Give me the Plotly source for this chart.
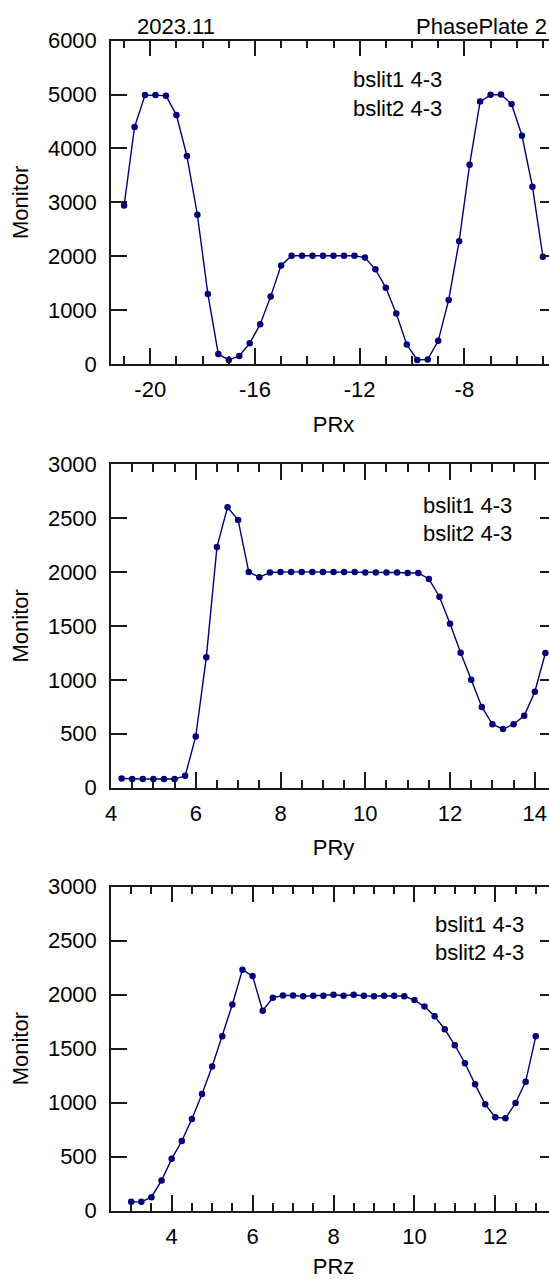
import plotly.graph_objects as go

# ---------------- data ----------------
prx = [-21.0, -20.6, -20.2, -19.8, -19.4, -19.0, -18.6, -18.2, -17.8, -17.4,
       -17.0, -16.6, -16.2, -15.8, -15.4, -15.0, -14.6, -14.2, -13.8, -13.4,
       -13.0, -12.6, -12.2, -11.8, -11.4, -11.0, -10.6, -10.2, -9.8, -9.4,
       -9.0, -8.6, -8.2, -7.8, -7.4, -7.0, -6.6, -6.2, -5.8, -5.4, -5.0]
mon_x = [2940, 4400, 4990, 4990, 4980, 4620, 3860, 2770, 1300, 185,
         75, 150, 385, 740, 1255, 1830, 2010, 2010, 2010, 2010,
         2010, 2010, 2010, 1975, 1757, 1416, 935, 360, 75, 85,
         430, 1190, 2280, 3700, 4870, 4995, 5000, 4825, 4235, 3290, 1990]

pry = [4.25, 4.5, 4.75, 5.0, 5.25, 5.5, 5.75, 6.0, 6.25, 6.5,
       6.75, 7.0, 7.25, 7.5, 7.75, 8.0, 8.25, 8.5, 8.75, 9.0,
       9.25, 9.5, 9.75, 10.0, 10.25, 10.5, 10.75, 11.0, 11.25, 11.5,
       11.75, 12.0, 12.25, 12.5, 12.75, 13.0, 13.25, 13.5, 13.75, 14.0, 14.25]
mon_y = [85, 80, 80, 80, 80, 80, 110, 475, 1210, 2230,
         2600, 2480, 2000, 1950, 1995, 2000, 2000, 2000, 2000, 2000,
         2000, 2000, 2000, 1995, 1995, 1995, 1995, 1990, 1990, 1935,
         1770, 1520, 1250, 1000, 748, 588, 543, 588, 666, 890, 1248]

prz = [3.0, 3.25, 3.5, 3.75, 4.0, 4.25, 4.5, 4.75, 5.0, 5.25,
       5.5, 5.75, 6.0, 6.25, 6.5, 6.75, 7.0, 7.25, 7.5, 7.75,
       8.0, 8.25, 8.5, 8.75, 9.0, 9.25, 9.5, 9.75, 10.0, 10.25,
       10.5, 10.75, 11.0, 11.25, 11.5, 11.75, 12.0, 12.25, 12.5, 12.75, 13.0]
mon_z = [82, 82, 125, 280, 480, 645, 850, 1080, 1335, 1615,
         1910, 2232, 2172, 1852, 1972, 1992, 1992, 1985, 1990, 1990,
         2000, 1990, 2000, 1990, 1985, 1990, 1990, 1985, 1950, 1890,
         1800, 1680, 1532, 1365, 1170, 985, 865, 855, 997, 1195, 1615]

# tick labels (plain hyphen minus, as in the original)
prx_tickvals = [-20, -16, -12, -8]
prx_ticktext = ["-20", "-16", "-12", "-8"]
pry_tickvals = [4, 6, 8, 10, 12, 14]
pry_ticktext = ["4", "6", "8", "10", "12", "14"]
prz_tickvals = [4, 6, 8, 10, 12]
prz_ticktext = ["4", "6", "8", "10", "12"]

x_titles = ["PRx", "PRy", "PRz"]
y_title = "Monitor"
header_left = "2023.11"
header_right = "PhasePlate 2"
slit_lines = ["bslit1 4-3", "bslit2 4-3"]

# ---------------- layout geometry (pixels) ----------------
W, H = 557, 1279
L, R = 111, 556
panels_px = [(40.7, 364.0), (464.0, 787.7), (886.7, 1210.7)]
xranges = [[-21.5, -4.5], [4, 14.5], [2.5, 13.5]]
yranges = [[0, 6000], [0, 3000], [0, 3000]]
xticks = [(prx_tickvals, prx_ticktext), (pry_tickvals, pry_ticktext), (prz_tickvals, prz_ticktext)]
xminor = [(1, -21), (0.5, 4), (0.5, 3)]
ydticks = [1000, 500, 500]

FONT = "Liberation Sans, Arial, Helvetica, sans-serif"
FS = 22
INK = "#1a1a1a"
NAVY = "#000078"

def px_x(px):
    return (px - L) / (R - L)

def px_y(py):
    return (H - py) / H

fig = go.Figure()
series = [(prx, mon_x), (pry, mon_y), (prz, mon_z)]
for i, (xs, ys) in enumerate(series):
    sfx = "" if i == 0 else str(i + 1)
    fig.add_trace(go.Scatter(
        x=xs, y=ys, mode="lines+markers",
        line=dict(color=NAVY, width=1.4),
        marker=dict(color=NAVY, size=6.5),
        xaxis="x" + sfx, yaxis="y" + sfx, showlegend=False,
        cliponaxis=False))

layout = dict(
    width=W, height=H,
    margin=dict(l=L, r=W - R, t=0, b=0, pad=0),
    plot_bgcolor="white", paper_bgcolor="white",
    font=dict(family=FONT, size=FS, color="black"),
    showlegend=False,
)

for i in range(3):
    sfx = "" if i == 0 else str(i + 1)
    top, bot = panels_px[i]
    tv, tt = xticks[i]
    mdt, mt0 = xminor[i]
    layout["xaxis" + sfx] = dict(
        domain=[0, 1], anchor="y" + sfx, range=xranges[i],
        showline=True, linewidth=1.5, linecolor=INK, mirror="ticks",
        ticks="inside", ticklen=16, tickwidth=1.5, tickcolor=INK,
        tickmode="array", tickvals=tv, ticktext=tt,
        minor=dict(ticks="inside", ticklen=8, tickwidth=1.5, tickcolor=INK,
                   tickmode="linear", dtick=mdt, tick0=mt0, showgrid=False),
        showgrid=False, zeroline=False, automargin=False,
        tickfont=dict(size=FS), ticklabelstandoff=5,
        title=dict(text=x_titles[i], font=dict(size=FS), standoff=15),
    )
    layout["yaxis" + sfx] = dict(
        domain=[px_y(bot), px_y(top)], anchor="x" + sfx, range=yranges[i],
        showline=True, linewidth=1.5, linecolor=INK, mirror="ticks",
        ticks="inside", ticklen=16, tickwidth=1.5, tickcolor=INK,
        tickmode="linear", dtick=ydticks[i], tick0=0,
        showgrid=False, zeroline=False, automargin=False,
        tickfont=dict(size=FS), ticklabelstandoff=8,
        title=dict(text=y_title, font=dict(size=FS), standoff=13),
    )

fig.update_layout(**layout)

annos = [
    dict(text=header_left, x=px_x(135.5), y=px_y(26.0), xanchor="left", yanchor="middle"),
    dict(text=header_right, x=px_x(548), y=px_y(26.0), xanchor="right", yanchor="middle"),
]
# first line anchored by its bottom, second by its top, so the boxes just touch
slit_pos = [(352, 94.0), (422, 519.0), (434, 938.5)]
for (sx, ymid) in slit_pos:
    annos.append(dict(text=slit_lines[0], x=px_x(sx), y=px_y(ymid - 0.5), xanchor="left", yanchor="bottom"))
    annos.append(dict(text=slit_lines[1], x=px_x(sx), y=px_y(ymid + 0.5), xanchor="left", yanchor="top"))
for a in annos:
    a.update(xref="paper", yref="paper", showarrow=False, font=dict(size=FS, family=FONT), borderpad=0)
fig.update_layout(annotations=annos)

fig.write_html("out.html",
               post_script="document.documentElement.style.overflow='hidden';document.body.style.overflow='hidden';")
